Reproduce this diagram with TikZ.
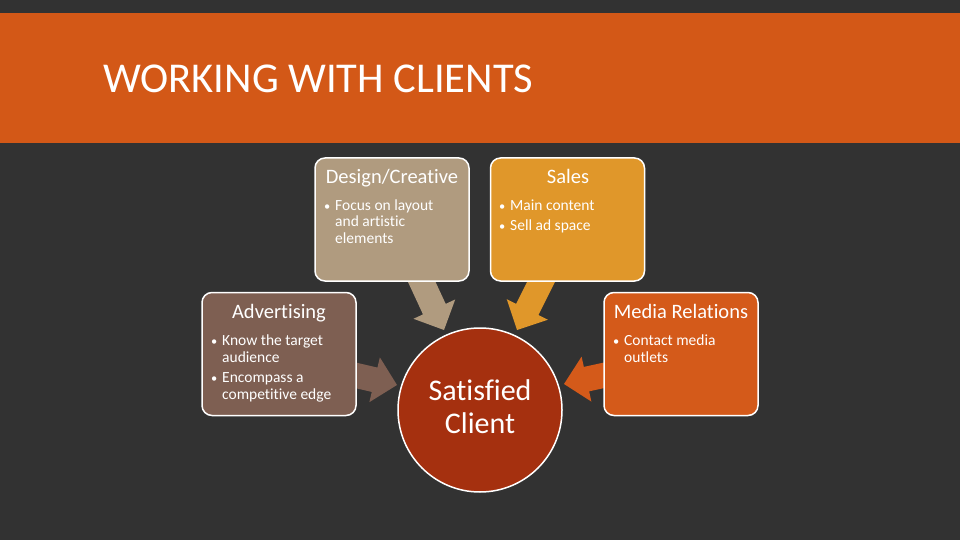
\documentclass[tikz,border=0pt]{standalone}
\usepackage{fontspec}
\setmainfont{Carlito}[Ligatures={NoCommon}]
\usetikzlibrary{calc}
\definecolor{bgc}{HTML}{323232}
\definecolor{band}{HTML}{D35817}
\definecolor{designc}{HTML}{B09B7F}
\definecolor{salesc}{HTML}{E0972A}
\definecolor{advc}{HTML}{7E5F52}
\definecolor{mediac}{HTML}{D45A1A}
\definecolor{circc}{HTML}{A5300F}
\newcommand\blockarrow[3]{%
  \path ($(#2)!23pt!(#1)$) coordinate (bh);
  \fill[#3] ($(#1)!12.5pt!90:(#2)$) -- ($(bh)!12.5pt!90:(#2)$) -- ($(bh)!23pt!90:(#2)$) -- (#2)
    -- ($(bh)!23pt!-90:(#2)$) -- ($(bh)!12.5pt!-90:(#2)$) -- ($(#1)!12.5pt!-90:(#2)$) -- cycle;}
\tikzset{
  box/.style={draw=white, line width=1.5pt, rounded corners=10pt, minimum width=154pt, minimum height=123pt, inner sep=0pt},
  head/.style={text=white, font=\fontsize{20.5}{24}\selectfont, inner sep=0pt, anchor=base},
  body/.style={text=white, font=\fontsize{15.5}{17.5}\selectfont, inner sep=0pt, anchor=base west},
}
\newcommand\bul{\makebox[11pt][l]{\scalebox{0.8}{•}}}
\begin{document}
\begin{tikzpicture}[x=1pt,y=-1pt]
\fill[bgc] (0,0) rectangle (960,540);
\useasboundingbox (0,0) rectangle (960,540);
\fill[band] (0,13) rectangle (960,143);
\node[text=white, font=\fontsize{42.5}{50}\selectfont, inner sep=0pt, anchor=base west] (title) at (103,93) {WORKING WITH CLIENTS};
% arrow end coordinates
\coordinate (dA) at (419,276);
\coordinate (dB) at (444,330);
\coordinate (sA) at (544,276);
\coordinate (sB) at (517,330);
\coordinate (aA) at (350,374);
\coordinate (aB) at (397,385);
\coordinate (mA) at (610,374);
\coordinate (mB) at (564,384);
\blockarrow{dA}{dB}{designc}
\blockarrow{sA}{sB}{salesc}
\blockarrow{aA}{aB}{advc}
\blockarrow{mA}{mB}{mediac}
% boxes
\node[box, fill=designc] (design) at (392,219.5) {};
\node[box, fill=salesc] (sales) at (567.5,219.5) {};
\node[box, fill=advc] (adv) at (279,354) {};
\node[box, fill=mediac] (media) at (681,354) {};
\node[circle, draw=white, line width=1.5pt, fill=circc, minimum size=164pt, inner sep=0pt] (client) at (480,410) {};
% titles
\node[head] (designT) at (392,183) {Design/Creative};
\node[head] (salesT) at (568,183) {Sales};
\node[head] (advT) at (279,318) {Advertising};
\node[head] (mediaT) at (681,318) {Media Relations};
% bodies
\node[body] (d1) at (324,210) {\bul Focus on layout};
\node[body] (d2) at (335,226.5) {and artistic};
\node[body] (d3) at (335,243) {elements};
\node[body] (s1) at (499,210) {\bul Main content};
\node[body] (s2) at (499,230) {\bul Sell ad space};
\node[body] (a1) at (211,345) {\bul Know the target};
\node[body] (a2) at (222,362) {audience};
\node[body] (a3) at (211,382) {\bul Encompass a};
\node[body] (a4) at (222,399) {competitive edge};
\node[body] (m1) at (613,345) {\bul Contact media};
\node[body] (m2) at (624,362) {outlets};
% circle text
\node[text=white, font=\fontsize{30}{33}\selectfont, inner sep=0pt, anchor=base] (c1) at (480,400) {Satisfied};
\node[text=white, font=\fontsize{30}{33}\selectfont, inner sep=0pt, anchor=base] (c2) at (480,433) {Client};
\end{tikzpicture}
\end{document}
